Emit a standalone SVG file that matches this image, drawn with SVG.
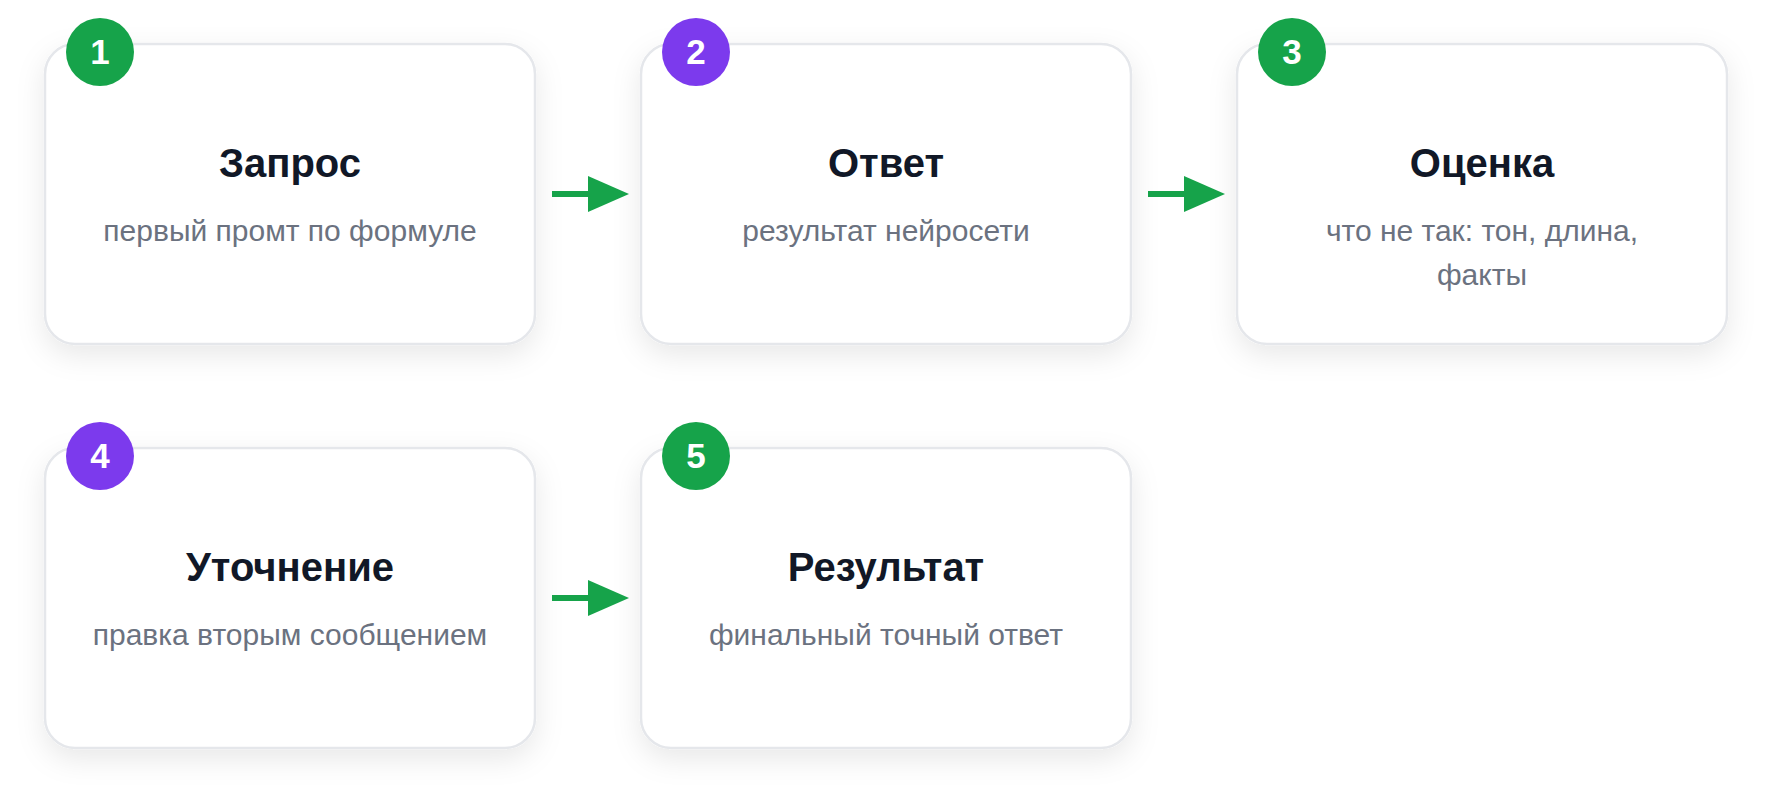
<svg xmlns="http://www.w3.org/2000/svg" width="1772" height="792" viewBox="0 0 1772 792">
<style>
.card{fill:#ffffff;stroke:#e5e7eb;stroke-width:2.5}
.title{font-family:"Liberation Sans",Arial,sans-serif;font-weight:bold;font-size:40px;fill:#111827;text-anchor:middle}
.sub{font-family:"Liberation Sans",Arial,sans-serif;font-size:30px;fill:#6b7280;text-anchor:middle}
.num{font-family:"Liberation Sans",Arial,sans-serif;font-weight:bold;font-size:35px;fill:#ffffff;text-anchor:middle}
.green{fill:#16a34a}
.purple{fill:#7c3aed}
.conn line{stroke:#16a34a;stroke-width:6}
.conn polygon{fill:#16a34a}
</style>
<defs>
<filter id="sh" x="-20%" y="-20%" width="140%" height="150%">
<feDropShadow dx="0" dy="10" stdDeviation="14" flood-color="#000000" flood-opacity="0.09"/>
</filter>
</defs>
<rect width="1772" height="792" fill="#ffffff"/>
<g id="node1">
<rect class="card" x="45" y="44" width="490" height="300" rx="30" filter="url(#sh)"/>
<circle class="green" cx="100" cy="52" r="34"/>
<text class="num" x="100" y="64">1</text>
<text class="title" x="290" y="177">Запрос</text>
<text class="sub" x="290" y="241">первый промт по формуле</text>
</g>
<g id="node2">
<rect class="card" x="641" y="44" width="490" height="300" rx="30" filter="url(#sh)"/>
<circle class="purple" cx="696" cy="52" r="34"/>
<text class="num" x="696" y="64">2</text>
<text class="title" x="886" y="177">Ответ</text>
<text class="sub" x="886" y="241">результат нейросети</text>
</g>
<g id="node3">
<rect class="card" x="1237" y="44" width="490" height="300" rx="30" filter="url(#sh)"/>
<circle class="green" cx="1292" cy="52" r="34"/>
<text class="num" x="1292" y="64">3</text>
<text class="title" x="1482" y="177">Оценка</text>
<text class="sub" x="1482" y="241">что не так: тон, длина,</text>
<text class="sub" x="1482" y="285">факты</text>
</g>
<g id="node4">
<rect class="card" x="45" y="448" width="490" height="300" rx="30" filter="url(#sh)"/>
<circle class="purple" cx="100" cy="456" r="34"/>
<text class="num" x="100" y="468">4</text>
<text class="title" x="290" y="581">Уточнение</text>
<text class="sub" x="290" y="645">правка вторым сообщением</text>
</g>
<g id="node5">
<rect class="card" x="641" y="448" width="490" height="300" rx="30" filter="url(#sh)"/>
<circle class="green" cx="696" cy="456" r="34"/>
<text class="num" x="696" y="468">5</text>
<text class="title" x="886" y="581">Результат</text>
<text class="sub" x="886" y="645">финальный точный ответ</text>
</g>
<g id="connectors" class="conn">
<line x1="552" y1="194" x2="590" y2="194"/>
<polygon points="588,176 629,194 588,212"/>
<line x1="1148" y1="194" x2="1186" y2="194"/>
<polygon points="1184,176 1225,194 1184,212"/>
<line x1="552" y1="598" x2="590" y2="598"/>
<polygon points="588,580 629,598 588,616"/>
</g>
</svg>
